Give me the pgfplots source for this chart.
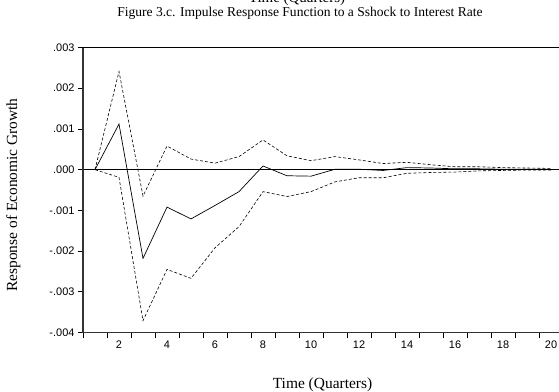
\documentclass[border=0pt]{standalone}
\usepackage{fontspec}
\setmainfont{Liberation Serif}
\newfontfamily\arialfont{Liberation Sans}
\usepackage{pgfplots}
\pgfplotsset{compat=1.18}
\usepackage{pgfplotstable}

\pgfplotstableread{
k resp upper lower
1 0.00000 0.00000 0.00000
2 0.00112 0.00241 -0.00019
3 -0.00218 -0.00065 -0.00371
4 -0.00092 0.00058 -0.00245
5 -0.00121 0.00026 -0.00267
6 -0.00088 0.00016 -0.00192
7 -0.00054 0.00032 -0.00140
8 0.00009 0.00073 -0.00054
9 -0.00015 0.00034 -0.00066
10 -0.00016 0.00022 -0.00054
11 0.00001 0.00032 -0.00030
12 0.00001 0.00024 -0.00020
13 -0.00002 0.00015 -0.00020
14 0.00005 0.00018 -0.00009
15 0.00004 0.00012 -0.00007
16 0.00002 0.00007 -0.00006
17 0.00002 0.00007 -0.00003
18 0.00001 0.00005 -0.00002
19 0.00001 0.00004 -0.00001
20 0.00001 0.00003 -0.00001
}\irf

\begin{document}
\begin{tikzpicture}
\useasboundingbox (0,0) rectangle (559bp,392bp);
\node[anchor=base, font=\fontsize{15}{17}\selectfont] at (297bp,389.5bp) {Time (Quarters)};
\begin{axis}[
  at={(83bp,59.5bp)}, anchor=south west,
  scale only axis, width=480bp, height=285bp,
  xmin=0.5, xmax=20.5, ymin=-0.004, ymax=0.003,
  xtick={2,4,...,20},
  xticklabels={2,4,6,8,10,12,14,16,18,20},
  minor xtick={0.5,1.5,...,20.5},
  major x tick style={draw=none},
  ytick={-0.004,-0.003,-0.002,-0.001,0,0.001,0.002,0.003},
  yticklabels={-.004,-.003,-.002,-.001,.000,.001,.002,.003},
  tick align=outside,
  major tick length=5bp, minor tick length=5bp,
  xtick pos=bottom, ytick pos=left,
  tick style={black, line width=0.8bp},
  tick label style={font=\arialfont\fontsize{11}{11}\selectfont, black},
  scaled y ticks=false,
  axis line style={black, line width=0.6bp},
  title={Figure 3.c. Impulse Response Function to a Sshock to Interest Rate},
  title style={font=\fontsize{13.6}{15}\selectfont, at={(axis description cs:0.452,1.0895)}, anchor=base},
  xlabel={Time (Quarters)},
  xlabel style={font=\fontsize{15.5}{17}\selectfont, at={(axis description cs:0.499,-0.1958)}, anchor=base},
  ylabel={Response of Economic Growth},
  ylabel style={font=\fontsize{15.5}{17}\selectfont, at={(axis description cs:-0.1375,0.4825)}, anchor=base},
  clip=false,
]
\addplot[black, line width=0.6bp, forget plot] coordinates {(0.5,0) (20.5,0)};
\addplot[black, line width=0.7bp] table[x=k, y=resp] {\irf};
\addplot[black, line width=0.6bp, dash pattern=on 3bp off 2bp] table[x=k, y=upper] {\irf};
\addplot[black, line width=0.6bp, dash pattern=on 3bp off 2bp] table[x=k, y=lower] {\irf};
\draw[line width=1.3bp, black!80] (rel axis cs:0,1) -- (rel axis cs:0,0) -- (rel axis cs:1,0);
\end{axis}
\end{tikzpicture}
\end{document}
